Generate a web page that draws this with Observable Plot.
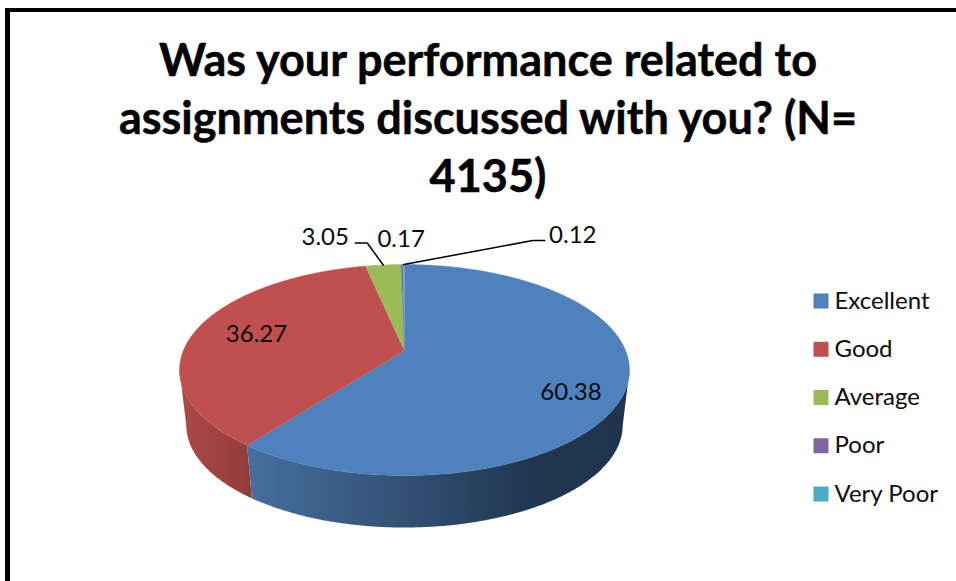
<!DOCTYPE html>
<html>
<head>
<meta charset="utf-8">
<script src="https://cdn.jsdelivr.net/npm/d3@7"></script>
<script src="https://cdn.jsdelivr.net/npm/@observablehq/plot@0.6"></script>
<style>
html,body{margin:0;padding:0;background:#fff;width:956px;height:581px;overflow:hidden}
#frame{position:absolute;left:5px;top:8px;width:951px;height:573px;box-sizing:border-box;border-left:5px solid #000;border-top:4px solid #000;pointer-events:none}
#title{box-sizing:border-box;width:956px;height:205px;padding:30px 0 0 20px;text-align:center;font:700 45px/58px Lato,sans-serif;color:#000;-webkit-text-stroke:0.5px #000}
svg{display:block}
</style>
</head>
<body>
<div id="frame"></div>
<div id="title">Was your performance related to<br>assignments discussed with you? (N=<br>4135)</div>
<div id="chart"></div>
<script>
// Data
const categories = ["Excellent", "Good", "Average", "Poor", "Very Poor"];
const values = [60.38, 36.27, 3.05, 0.17, 0.12];
const labels = ["60.38", "36.27", "3.05", "0.17", "0.12"];
const colors = ["#4f81bd", "#c0504d", "#9bbb59", "#8064a2", "#4bacc6"];

// Layout of the tilted disc (page pixels)
const cx = 404, apexY = 350, a = 221.1, b = 101.9, k = 0.185;
const wallScale = 0.97, wallApexY = 405.75;
const svgTop = 205, W = 956, H = 581;
// where the label sits relative to the slice anchor
const labelRadius = [0.75, 0.75, 1, 1, 1];
const labelShift = [[2, 16], [9, 0], [-58, -28], [-1, -25], [169, -29]];
const leaderElbow = [null, null, [[-16, -22], [-28, -22]], null, [[129, -24], [141, -24]]];
const legendX = 820.5, legendTextX = 834, legendTop = 300.5, legendStep = 48.25;

function project(theta, r = 1, wall = false) {
  const X = r * Math.sin(theta), Y = -r * Math.cos(theta), d = 1 - k * Y;
  const px = a * X / d, py = b * Y / d;
  return wall ? [cx + wallScale * px, wallApexY + wallScale * py] : [cx + px, apexY + py];
}
const arcPts = (t0, t1, wall = false) => {
  const n = Math.max(2, Math.ceil(Math.abs(t1 - t0) / 0.01));
  return d3.range(n + 1).map(i => project(t0 + (t1 - t0) * i / n, 1, wall));
};

const pie = d3.pie().sort(null)(values);
const slices = pie.map((p, i) => ({
  name: categories[i], color: colors[i], t0: p.startAngle, t1: p.endAngle, mid: (p.startAngle + p.endAngle) / 2
}));

// Top face of each slice
const topFaces = slices.map(s => [[cx, apexY], ...arcPts(s.t0, s.t1)]);

// Visible side wall between silhouette tangents
const tangentRight = Math.acos(-k), tangentLeft = 2 * Math.PI - tangentRight;
const wallOf = s => {
  const t0 = Math.max(s.t0, tangentRight), t1 = Math.min(s.t1, tangentLeft);
  return [...arcPts(t0, t1), ...arcPts(t1, t0, true)];
};

function gradient(id, stops) {
  const ns = "http://www.w3.org/2000/svg";
  const g = document.createElementNS(ns, "linearGradient");
  g.setAttribute("id", id);
  stops.forEach(([o, c]) => {
    const st = document.createElementNS(ns, "stop");
    st.setAttribute("offset", o);
    st.setAttribute("stop-color", c);
    g.appendChild(st);
  });
  return g;
}
const defsMark = () => {
  const ns = "http://www.w3.org/2000/svg";
  const defs = document.createElementNS(ns, "defs");
  defs.appendChild(gradient("wallBlue", [[0, "#466f9f"], [0.3, "#38597f"], [0.55, "#2a4666"], [0.75, "#20364f"], [1, "#1f344d"]]));
  defs.appendChild(gradient("wallRed", [[0, "#ad4a47"], [1, "#913c39"]]));
  return defs;
};

const lineFont = {fontFamily: "Lato, sans-serif", fontSize: 24, fill: "#0a0a0a"};

const labelData = slices.map((s, i) => {
  const [x, y] = project(s.mid, labelRadius[i]);
  return {x: x + labelShift[i][0], y: y + labelShift[i][1], text: labels[i]};
});
const leaders = slices.flatMap((s, i) => {
  if (!leaderElbow[i]) return [];
  const [x, y] = project(s.mid);
  return [[x, y], ...leaderElbow[i].map(([dx, dy]) => [x + dx, y + dy])].map(p => ({x: p[0], y: p[1], name: s.name}));
});
const legend = categories.map((name, i) => ({name, color: colors[i], y: legendTop + i * legendStep}));

const plot = Plot.plot({
  width: W,
  height: H - svgTop,
  margin: 0,
  x: {domain: [0, W], range: [0, W], axis: null},
  y: {domain: [svgTop, H], range: [0, H - svgTop], axis: null},
  style: {background: "transparent", overflow: "visible"},
  marks: [
    defsMark,
    Plot.line(wallOf(slices[0]), {x: d => d[0], y: d => d[1], fill: "url(#wallBlue)", stroke: "none"}),
    Plot.line(wallOf(slices[1]), {x: d => d[0], y: d => d[1], fill: "url(#wallRed)", stroke: "none"}),
    ...topFaces.map((pts, i) => Plot.line(pts, {
      x: d => d[0], y: d => d[1], fill: colors[i], stroke: colors[i], strokeWidth: 0.4
    })),
    Plot.line(leaders, {x: "x", y: "y", z: "name", stroke: "#000", strokeWidth: 1.5}),
    Plot.text(labelData, {x: "x", y: "y", text: "text", ...lineFont}),
    Plot.dot(legend, {x: () => legendX, y: "y", symbol: "square", r: 8.46, fill: "color", stroke: "none"}),
    Plot.text(legend, {x: () => legendTextX, y: "y", text: "name", textAnchor: "start", ...lineFont})
  ]
});
document.getElementById("chart").appendChild(plot);
</script>
</body>
</html>
